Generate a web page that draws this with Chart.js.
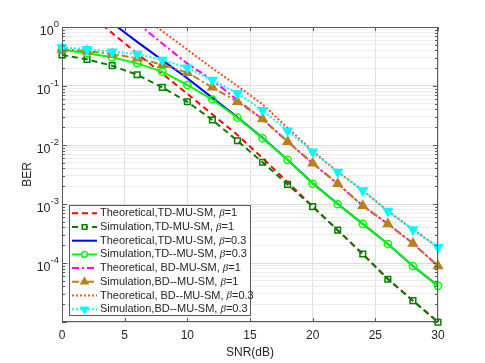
<!DOCTYPE html>
<html>
<head>
<meta charset="utf-8">
<script src="https://cdn.jsdelivr.net/npm/chart.js@4.4.1/dist/chart.umd.min.js"></script>
<style>
    html, body { margin: 0; padding: 0; background: #fff; }
    canvas { display: block; }
</style>
</head>
<body>
<canvas id="berChart" width="485" height="363"></canvas>
<script>
// SNR points (dB)
const snrSim = [0, 2, 4, 6, 8, 10, 12, 14, 16, 18, 20, 22, 24, 26, 28, 30];
const snrTheoTD1 = [2, 4, 6, 8, 10, 12, 14, 16, 18, 20, 22, 24, 26, 28, 30];
const snrTheoTD03 = [4, 6, 8, 10, 12, 14, 16, 18, 20, 22, 24, 26, 28, 30];
const snrTheoBD1 = [6, 8, 10, 12, 14, 16, 18, 20, 22, 24, 26, 28, 30];
const snrTheoBD03 = [6, 8, 10, 12, 14, 16, 18, 20, 22, 24, 26, 28, 30];

// BER values
const theoTD1 = [1.78, 0.79, 0.355, 0.162, 0.074, 0.033, 0.0148, 0.006, 0.00234, 9.1e-4, 3.6e-4, 1.41e-4, 5.4e-5, 2.3e-5, 1.0e-5];
const simTD1 = [0.335, 0.283, 0.221, 0.155, 0.095, 0.054, 0.0265, 0.0118, 0.0051, 0.00215, 9.0e-4, 3.6e-4, 1.42e-4, 5.3e-5, 2.3e-5, 9.9e-6];
const theoTD03 = [1.17, 0.56, 0.275, 0.135, 0.063, 0.0295, 0.0132, 0.0056, 0.00224, 1.0e-3, 4.6e-4, 2.1e-4, 8.9e-5, 4.1e-5];
const simTD03 = [0.41, 0.36, 0.306, 0.242, 0.175, 0.104, 0.059, 0.029, 0.013, 0.0056, 0.0022, 9.9e-4, 4.6e-4, 2.1e-4, 8.9e-5, 4.1e-5];
const theoBD1 = [1.17, 0.525, 0.24, 0.126, 0.0575, 0.0275, 0.0114, 0.0049, 0.0022, 9.3e-4, 4.6e-4, 2.15e-4, 8.9e-5];
const simBD1 = [0.42, 0.39, 0.35, 0.295, 0.23, 0.168, 0.095, 0.054, 0.0276, 0.0114, 0.0049, 0.0022, 9.3e-4, 4.6e-4, 2.15e-4, 8.9e-5];
const theoBD03 = [1.74, 0.85, 0.412, 0.2, 0.1, 0.049, 0.0195, 0.0079, 0.0035, 0.0017, 7.6e-4, 3.7e-4, 1.85e-4];
const simBD03 = [0.45, 0.42, 0.38, 0.35, 0.276, 0.204, 0.126, 0.075, 0.039, 0.0175, 0.0077, 0.0035, 0.0017, 7.6e-4, 3.7e-4, 1.85e-4];

// axis ticks
const xTicks = [0, 5, 10, 15, 20, 25, 30];
const yTickExponents = [0, -1, -2, -3, -4];

const seriesNames = [
    "Theoretical,TD-MU-SM, β=1",
    "Simulation,TD-MU-SM, β=1",
    "Theoretical,TD-MU-SM, β=0.3",
    "Simulation,TD--MU-SM, β=0.3",
    "Theoretical, BD-MU-SM, β=1",
    "Simulation,BD--MU-SM, β=1",
    "Theoretical, BD--MU-SM, β=0.3",
    "Simulation,BD--MU-SM, β=0.3"
];

const seriesX = [snrTheoTD1, snrSim, snrTheoTD03, snrSim, snrTheoBD1, snrSim, snrTheoBD03, snrSim];
const seriesY = [theoTD1, simTD1, theoTD03, simTD03, theoBD1, simBD1, theoBD03, simBD03];

const styles = [
    { color: "#ff0000", dash: [6, 4], marker: null },
    { color: "#007f00", dash: [6, 4], marker: "rect", radius: 4, fill: false },
    { color: "#0000ff", dash: [], marker: null },
    { color: "#00ff00", dash: [], marker: "circle", radius: 3.6, fill: false },
    { color: "#ff00ff", dash: [7, 3, 2, 3], marker: null },
    { color: "#b8801f", dash: [7, 3, 2, 3], marker: "triangle", radius: 5, fill: true },
    { color: "#f05020", dash: [2, 2], marker: null },
    { color: "#00ffff", dash: [2, 2], marker: "triangle", radius: 5, rotation: 180, fill: true }
];

const FONT = '"Liberation Sans", Arial, Helvetica, sans-serif';
const TEXT = "#262626";

const datasets = seriesNames.map((name, i) => {
    const s = styles[i];
    return {
        label: name,
        data: seriesX[i].map((x, j) => ({ x, y: seriesY[i][j] })),
        borderColor: s.color,
        backgroundColor: s.color,
        borderWidth: 2,
        borderDash: s.dash,
        pointStyle: s.marker || "circle",
        pointRadius: s.marker ? s.radius : 0,
        pointRotation: s.rotation || 0,
        pointBorderWidth: 1.5,
        pointBackgroundColor: s.fill ? s.color : "rgba(0,0,0,0)",
        pointBorderColor: s.color,
        tension: 0,
        order: seriesNames.length - i,
        clip: { left: 10, top: 0, right: 10, bottom: 10 }
    };
});

function strokeLine(ctx, x1, y1, x2, y2) {
    ctx.beginPath();
    ctx.moveTo(x1, y1);
    ctx.lineTo(x2, y2);
    ctx.stroke();
}

const axisDecor = {
    id: "axisDecor",
    afterDraw(chart) {
        const { ctx, chartArea: a, scales: { x, y } } = chart;
        ctx.save();
        ctx.strokeStyle = "#5a5a5a";
        ctx.lineWidth = 1;

        // inward ticks on all four sides
        y.ticks.forEach((t) => {
            const py = Math.round(y.getPixelForValue(t.value)) + 0.5;
            const len = t.major ? 5 : 3;
            strokeLine(ctx, a.left, py, a.left + len, py);
            strokeLine(ctx, a.right, py, a.right - len, py);
        });
        xTicks.forEach((v) => {
            const px = Math.round(x.getPixelForValue(v)) + 0.5;
            strokeLine(ctx, px, a.bottom, px, a.bottom - 4);
            strokeLine(ctx, px, a.top, px, a.top + 4);
        });
        ctx.strokeRect(a.left + 0.5, a.top + 0.5, a.right - a.left - 1, a.bottom - a.top - 1);

        // 10^n labels
        ctx.fillStyle = TEXT;
        ctx.textBaseline = "alphabetic";
        yTickExponents.forEach((e) => {
            const py = y.getPixelForValue(Math.pow(10, e));
            const sup = String(e);
            const right = a.left - 3;
            ctx.font = `9.5px ${FONT}`;
            const supW = ctx.measureText(sup).width;
            ctx.textAlign = "left";
            ctx.fillText(sup, right - supW, py - 0.5);
            ctx.font = `12.5px ${FONT}`;
            ctx.textAlign = "right";
            ctx.fillText("10", right - supW, py + 7.5);
        });
        ctx.restore();

        drawLegend(ctx);
    }
};

function drawLegend(ctx) {
    const box = { x: 69.5, y: 205.5, w: 181, h: 110 };
    ctx.save();
    ctx.fillStyle = "#fff";
    ctx.fillRect(box.x, box.y, box.w, box.h);
    ctx.strokeStyle = "#5a5a5a";
    ctx.lineWidth = 1;
    ctx.strokeRect(box.x, box.y, box.w, box.h);

    seriesNames.forEach((name, i) => {
        const s = styles[i];
        const cy = 213.3 + i * 13.7;
        ctx.strokeStyle = s.color;
        ctx.lineWidth = 2;
        ctx.setLineDash(s.dash);
        strokeLine(ctx, 72, cy, 97, cy);
        ctx.setLineDash([]);
        if (s.marker) {
            ctx.lineWidth = 1.5;
            ctx.fillStyle = s.fill ? s.color : "#fff";
            Chart.helpers.drawPoint(ctx, { pointStyle: s.marker, rotation: s.rotation || 0, radius: s.radius * 0.8, borderWidth: 1.5 }, 84.5, cy);
        }

        const [head, tail] = name.split("β");
        let tx = 100;
        ctx.fillStyle = TEXT;
        ctx.textAlign = "left";
        ctx.textBaseline = "middle";
        ctx.font = `11px ${FONT}`;
        ctx.fillText(head, tx, cy);
        tx += ctx.measureText(head).width;
        ctx.font = 'italic 11px "Liberation Serif", "Times New Roman", serif';
        ctx.fillText("β", tx, cy);
        tx += ctx.measureText("β").width;
        ctx.font = `11px ${FONT}`;
        ctx.fillText(tail, tx, cy);
    });
    ctx.restore();
}

function logTicks() {
    const ticks = [];
    for (let e = -5; e < 0; e += 1) {
        for (let m = 1; m <= 9; m += 1) ticks.push({ value: m * Math.pow(10, e), major: m === 1 });
    }
    ticks.push({ value: 1, major: true });
    return ticks;
}

new Chart(document.getElementById("berChart"), {
    type: "line",
    data: { datasets },
    plugins: [axisDecor],
    options: {
        responsive: false,
        animation: false,
        devicePixelRatio: 1,
        layout: { padding: { top: 27, right: 47, bottom: 0, left: 0 } },
        plugins: { legend: { display: false }, tooltip: { enabled: false } },
        scales: {
            x: {
                type: "linear",
                min: 0,
                max: 30,
                afterFit: (scale) => { scale.height = 41; },
                afterBuildTicks: (scale) => { scale.ticks = xTicks.map((v) => ({ value: v })); },
                ticks: { color: TEXT, font: { family: FONT, size: 12 }, padding: 6, maxRotation: 0 },
                grid: { color: "#e0e0e0", drawTicks: false },
                border: { display: false },
                title: { display: true, text: "SNR(dB)", color: TEXT, font: { family: FONT, size: 12 }, padding: { top: 0, bottom: 3 } }
            },
            y: {
                type: "logarithmic",
                min: 1e-5,
                max: 1,
                afterFit: (scale) => { scale.width = 62; },
                afterBuildTicks: (scale) => { scale.ticks = logTicks(); },
                ticks: { callback: () => "", autoSkip: false },
                grid: {
                    drawTicks: false,
                    color: (c) => (c.tick && c.tick.major ? "#dcdcdc" : "#ececec")
                },
                border: { display: false },
                title: { display: true, text: "BER", color: TEXT, font: { family: FONT, size: 12 }, padding: { top: 20, bottom: 0 } }
            }
        }
    }
});
</script>
</body>
</html>
